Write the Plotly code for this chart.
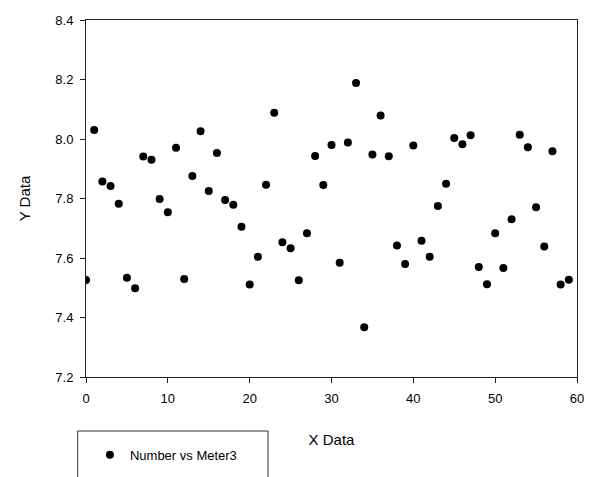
import plotly.graph_objects as go

# Number vs Meter3 readings
x_values = list(range(60))
y_values = [
    7.526, 8.030, 7.857, 7.842, 7.782, 7.534, 7.498, 7.941, 7.930, 7.798,
    7.754, 7.971, 7.529, 7.876, 8.026, 7.825, 7.953, 7.795, 7.779, 7.705,
    7.511, 7.604, 7.846, 8.088, 7.653, 7.633, 7.525, 7.683, 7.943, 7.845,
    7.980, 7.584, 7.988, 8.188, 7.367, 7.948, 8.079, 7.942, 7.642, 7.580,
    7.978, 7.658, 7.604, 7.775, 7.850, 8.003, 7.982, 8.013, 7.570, 7.512,
    7.683, 7.566, 7.730, 8.014, 7.972, 7.771, 7.639, 7.959, 7.511, 7.527,
]
x_ticks = [0, 10, 20, 30, 40, 50, 60]
y_ticks = [7.2, 7.4, 7.6, 7.8, 8.0, 8.2, 8.4]
series_name = "Number vs Meter3"

FONT = "Arial, 'Liberation Sans', sans-serif"

fig = go.Figure()
fig.add_trace(go.Scatter(
    x=x_values, y=y_values, mode="markers", name=series_name,
    marker=dict(color="black", size=8, line=dict(width=0)),
))

axis_common = dict(
    showgrid=False, zeroline=False, showline=True, linecolor="#222",
    linewidth=1, mirror=True, ticks="outside", ticklen=5, tickwidth=1,
    tickcolor="#222", tickfont=dict(size=13, color="black", family=FONT),
)

fig.update_xaxes(
    range=[0, 60], tickvals=x_ticks, ticktext=[str(v) for v in x_ticks],
    ticklabelstandoff=4,
    title=dict(text="X Data", font=dict(size=15, color="black", family=FONT),
               standoff=29),
    **axis_common,
)
fig.update_yaxes(
    range=[7.2, 8.4], tickvals=y_ticks, ticktext=[f"{v:.1f}" for v in y_ticks],
    ticklabelstandoff=4,
    title=dict(text="Y Data", font=dict(size=15, color="black", family=FONT),
               standoff=21),
    **axis_common,
)

# legend frame
fig.add_shape(type="rect", xref="paper", yref="paper",
              x0=-0.0169, x1=0.3707, y0=-0.40, y1=-0.1513,
              line=dict(color="#333", width=1), fillcolor="rgba(0,0,0,0)")

fig.update_layout(
    width=590, height=477,
    margin=dict(l=86, r=13, t=20, b=100, autoexpand=False),
    paper_bgcolor="white", plot_bgcolor="white",
    font=dict(family=FONT, color="black"),
    showlegend=True,
    legend=dict(x=0.008, y=-0.1756, xanchor="left", yanchor="top",
                bgcolor="rgba(0,0,0,0)", borderwidth=0,
                font=dict(size=13, color="black", family=FONT)),
)

fig.write_html("out.html")
